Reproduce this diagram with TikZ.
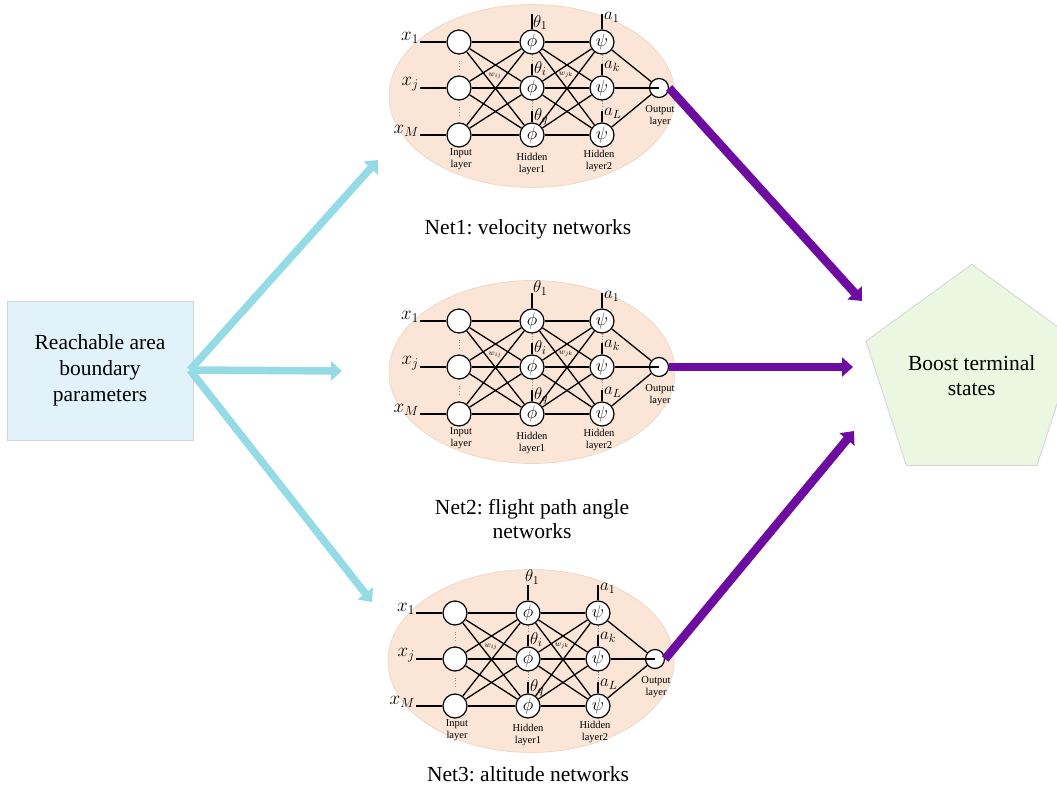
\RequirePackage{fix-cm}
\documentclass[tikz,border=0pt]{standalone}
\usepackage{fontspec}
\setmainfont{Liberation Serif}
\usetikzlibrary{arrows.meta,shapes.geometric}
\frenchspacing
\definecolor{cyanarr}{HTML}{95DBE6}
\definecolor{purparr}{HTML}{6E0BA1}
\definecolor{boxblue}{HTML}{E1F2FA}
\definecolor{boxgreen}{HTML}{EBF7E1}
\definecolor{peach}{HTML}{FBE5D6}
\definecolor{peachedge}{HTML}{EDDACB}
\definecolor{edgegray}{HTML}{D4D4D4}
\tikzset{
  neuron/.style={circle, draw=black, fill=white, line width=1.2pt, minimum size=24pt, inner sep=0pt, font=\fontsize{18}{18}\selectfont},
  outn/.style={neuron, minimum size=19pt},
  conn/.style={line width=1.3pt, black},
  dotsep/.style={black!45, dotted, line width=0.8pt},
  xlab/.style={font=\fontsize{19}{19}\selectfont, inner sep=1pt, anchor=east, yshift=4pt},
  glab/.style={font=\fontsize{17}{17}\selectfont, inner sep=1pt, anchor=west},
  wlab/.style={font=\fontsize{8}{8}\selectfont, inner sep=0pt},
  smalllab/.style={font=\fontsize{10.5}{12.5}\selectfont, align=center, inner sep=0pt},
  bigtext/.style={font=\fontsize{21.5}{25}\selectfont, align=center},
  netell/.style={ellipse, fill=peach, draw=peachedge, line width=0.8pt, minimum width=286pt, minimum height=183pt, inner sep=0pt},
  cyarrow/.style={draw=cyanarr, line width=7.5pt, -{Triangle[width=19pt,length=11pt]}},
  puarrow/.style={draw=purparr, line width=8.5pt, -{Triangle[width=19pt,length=11pt]}}
}
\newcommand{\nnet}[6]{%
  \node[netell] (#1e) at (#4,#5) {};
  \begin{scope}[shift={(#2,#3)}]
    \foreach \r/\yy in {1/0,2/46,3/93}{
      \node[neuron] (#1a\r) at (0,\yy) {};
      \node[neuron] (#1b\r) at (73,\yy) {$\phi$};
      \node[neuron] (#1c\r) at (143,\yy) {$\psi$};
    }
    \node[outn] (#1o) at (200,46) {};
    \foreach \i in {1,2,3}{
      \foreach \j in {1,2,3}{
        \draw[conn] (#1a\i) -- (#1b\j);
        \draw[conn] (#1b\i) -- (#1c\j);
      }
    }
    \draw[conn] (#1c1) -- (#1o);
    \draw[conn] (#1c3) -- (#1o);
    \draw[conn] (#1c2) -- (#1o.center);
    \foreach \r/\yy/\lab in {1/0/1,2/46/j,3/93/M}{
      \coordinate (#1s\r) at (-39,\yy);
      \draw[conn] (#1s\r) -- (#1a\r);
      \node[xlab] (#1x\r) at (#1s\r) {$x_{\lab}$};
    }
    \draw[dotsep, shorten <=6pt, shorten >=6pt] (#1a1) -- (#1a2);
    \draw[dotsep, shorten <=6pt, shorten >=6pt] (#1a2) -- (#1a3);
    % theta
    \draw[conn] (#1b1.north) -- ++(0,-15) coordinate (#1t1);
    \node[glab,#6] (#1th1) at (#1t1) {$\theta_1$};
    \draw[conn] (#1b2.north) -- ++(0,-11) coordinate (#1t2);
    \node[glab, anchor=north west, yshift=4pt, xshift=1pt] (#1th2) at (#1t2) {$\theta_i$};
    \draw[conn] (#1b3.north) -- ++(0,-11) coordinate (#1t3);
    \node[glab, anchor=north west, yshift=4pt, xshift=1pt] (#1th3) at (#1t3) {$\theta_q$};
    \draw[dotsep] (#1b1.south) -- (#1t2);
    \draw[dotsep] (#1b2.south) -- (#1t3);
    % a
    \draw[conn] (#1c1.north) -- ++(0,-15) coordinate (#1u1);
    \node[glab, anchor=north west, yshift=3pt, xshift=1pt] (#1al1) at (#1u1) {$a_1$};
    \draw[conn] (#1c2.north) -- ++(0,-11) coordinate (#1u2);
    \node[glab, anchor=north west, yshift=4pt, xshift=1pt] (#1al2) at (#1u2) {$a_k$};
    \draw[conn] (#1c3.north) -- ++(0,-11) coordinate (#1u3);
    \node[glab, anchor=north west, yshift=4pt, xshift=1pt] (#1al3) at (#1u3) {$a_L$};
    \draw[dotsep] (#1c1.south) -- (#1u2);
    \draw[dotsep] (#1c2.south) -- (#1u3);
    % weights
    \node[wlab] (#1w1) at (36,34) {$w_{ij}$};
    \node[wlab] (#1w2) at (107,33) {$w_{jk}$};
    % layer labels
    \node[smalllab] (#1li) at (2,117) {Input\\layer};
    \node[smalllab] (#1lh1) at (73,122) {Hidden\\layer1};
    \node[smalllab] (#1lh2) at (140,119) {Hidden\\layer2};
    \node[smalllab] (#1lo) at (201,74) {Output\\layer};
  \end{scope}}
\begin{document}
\begin{tikzpicture}[x=1pt,y=-1pt]
\useasboundingbox (0,0) rectangle (1057,789);
% source box
\node[draw=edgegray, fill=boxblue, line width=0.8pt, minimum width=186pt, minimum height=139pt, bigtext, font=\fontsize{21.5}{26}\selectfont] (src) at (100,370.5) {Reachable area\\boundary\\parameters};
% target pentagon
\node[regular polygon, regular polygon sides=5, minimum size=199pt, draw=edgegray, fill=boxgreen, line width=0.8pt, inner sep=0pt, bigtext] (boost) at (971.7,375.5) {Boost terminal\\states};
% networks
\nnet{n1}{459}{42}{532}{96}{anchor=north west}
\nnet{n2}{459}{321}{532}{372}{anchor=south west, yshift=-3pt}
\nnet{n3}{455}{613}{531}{661}{anchor=south west, xshift=-4pt}
% captions
\node[bigtext] (cap1) at (528,229) {Net1: velocity networks};
\node[bigtext, font=\fontsize{21.5}{24}\selectfont] (cap2) at (532,519) {Net2: flight path angle\\networks};
\node[bigtext] (cap3) at (528,774) {Net3: altitude networks};
% cyan arrows
\coordinate (cs) at (190,370);
\coordinate (ct1) at (378,160);
\coordinate (ct2) at (342,371);
\coordinate (ct3) at (372,602);
\draw[cyarrow] (cs) -- (ct1);
\draw[cyarrow] (cs) -- (ct2);
\draw[cyarrow] (cs) -- (ct3);
% purple arrows
\coordinate (pt1) at (862,301);
\coordinate (pt2) at (853,367);
\coordinate (pt3) at (854,431);
\draw[puarrow] (n1o.east) -- (pt1);
\draw[puarrow] (n2o.east) -- (pt2);
\draw[puarrow] (n3o.east) -- (pt3);
\end{tikzpicture}
\end{document}
